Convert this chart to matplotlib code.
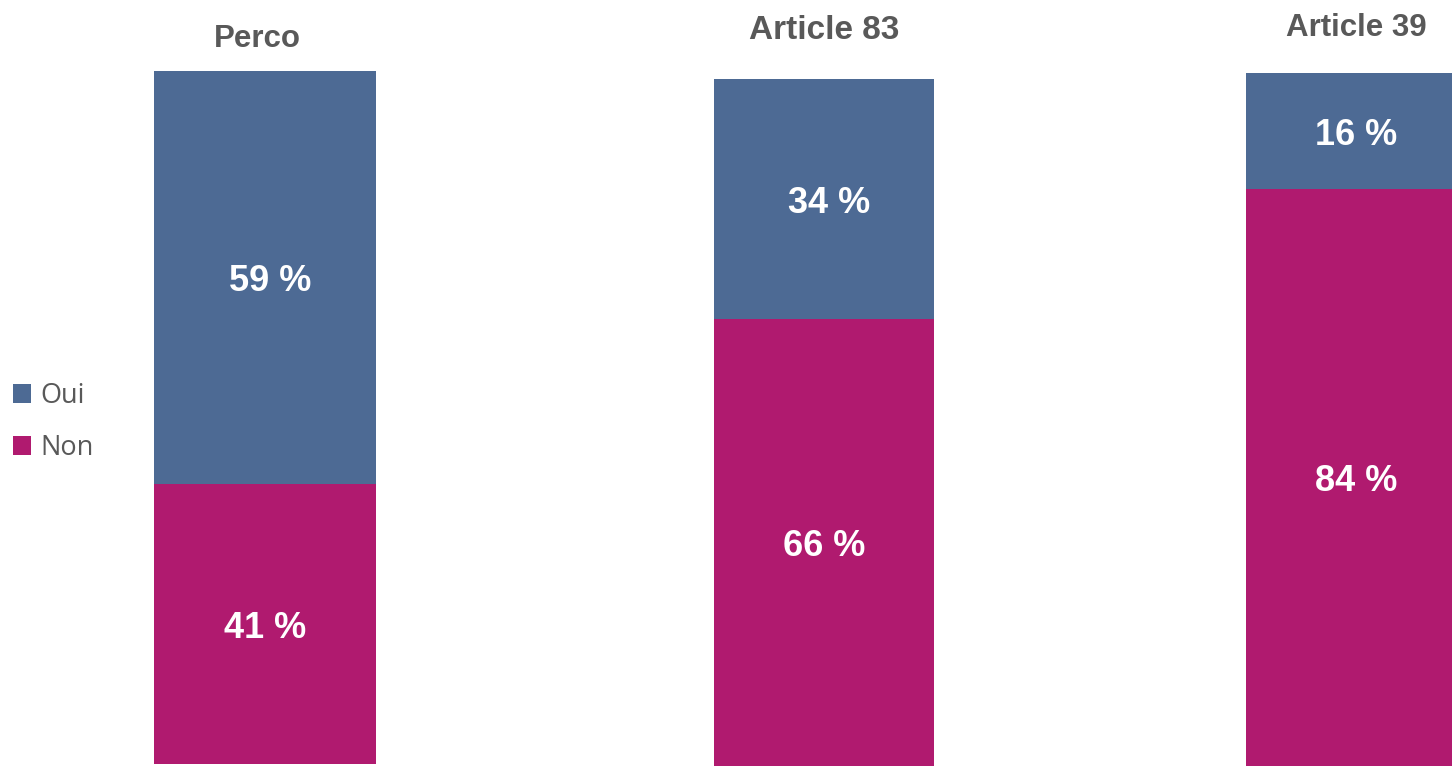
import matplotlib
matplotlib.use("Agg")
import matplotlib.pyplot as plt

categories = ["Perco", "Article 83", "Article 39"]
# segment shares as drawn in the picture
non = [40.4, 65.1, 83.3]
oui = [59.6, 34.9, 16.7]
# printed labels
non_labels = ["41 %", "66 %", "84 %"]
oui_labels = ["59 %", "34 %", "16 %"]
series_labels = ["Oui", "Non"]

COL_OUI = "#4D6A94"
COL_NON = "#B01A6F"
GRAY = "#595959"

W, H = 1452, 767
fig = plt.figure(figsize=(W / 100, H / 100), dpi=100)

# axes boxes in pixels: (left, right, top, bottom)
boxes = [(154, 376, 71, 764), (714, 934, 79, 766), (1246, 1466, 73, 766)]
title_pads = [17, 29, 27]
title_sizes = [22.5, 24, 22.5]
title_x = [0.464, 0.5, 0.5]
oui_dx = [5, 5, 0]
DY = -3  # points

handles = None
for i, (cat, (l, r, t, b)) in enumerate(zip(categories, boxes)):
    ax = fig.add_axes([l / W, 1 - b / H, (r - l) / W, (b - t) / H])
    b1 = ax.bar([0], [non[i]], width=1.0, color=COL_NON, label=series_labels[1])
    b2 = ax.bar([0], [oui[i]], bottom=[non[i]], width=1.0, color=COL_OUI, label=series_labels[0])
    ax.set_xlim(-0.5, 0.5)
    ax.set_ylim(0, non[i] + oui[i])
    ax.axis("off")
    ax.annotate(non_labels[i], xy=(0, non[i] / 2), xytext=(0, DY),
                textcoords="offset points", ha="center", va="center", color="white",
                fontsize=26, fontweight="bold", family="Liberation Sans")
    ax.annotate(oui_labels[i], xy=(0, non[i] + oui[i] / 2), xytext=(oui_dx[i] * 0.72, DY),
                textcoords="offset points", ha="center", va="center", color="white",
                fontsize=26, fontweight="bold", family="Liberation Sans")
    ax.set_title(cat, fontsize=title_sizes[i], fontweight="bold", color=GRAY,
                 family="Liberation Sans", pad=title_pads[i], x=title_x[i])
    if handles is None:
        handles = [b2, b1]

fig.legend(handles, [series_labels[0], series_labels[1]], loc="center left",
           bbox_to_anchor=(13 / W, 1 - 422 / H), frameon=False,
           prop={"family": "Open Sans", "size": 19.5}, labelcolor=GRAY,
           handlelength=0.68, handleheight=0.68, handletextpad=0.33,
           labelspacing=0.9, borderaxespad=0, borderpad=0)

fig.savefig("out.png", dpi=100)
